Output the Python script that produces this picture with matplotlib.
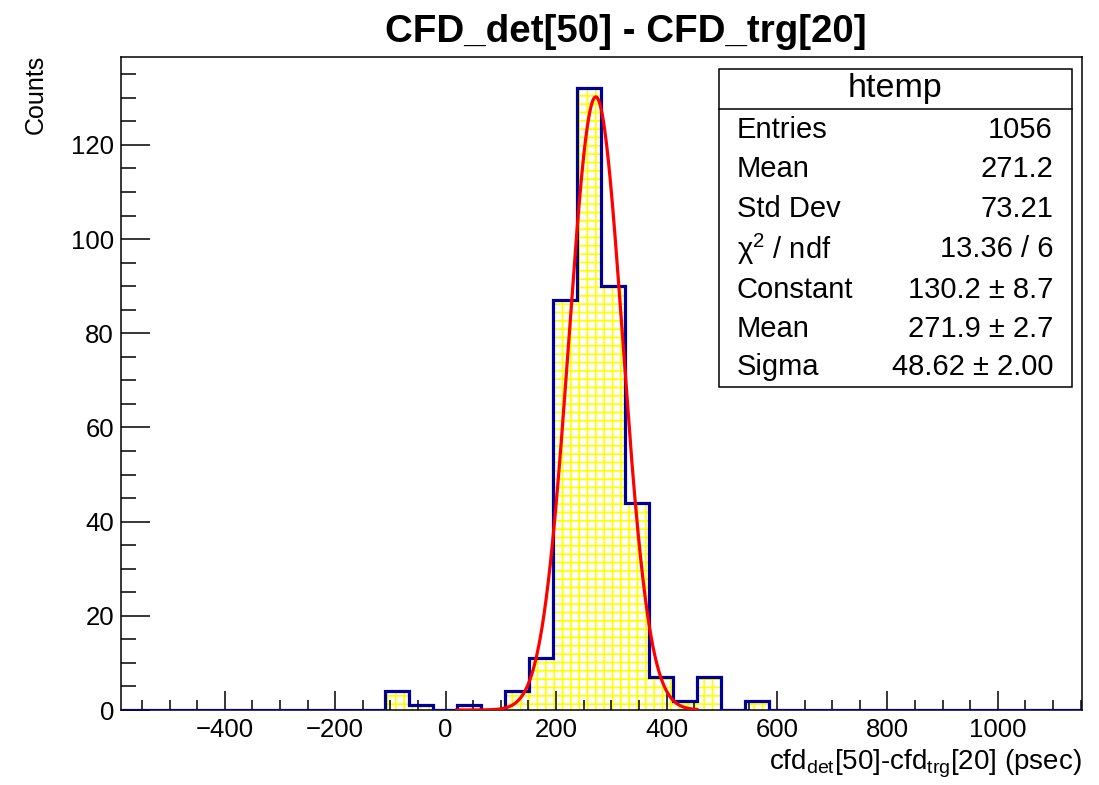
import numpy as np
import matplotlib
matplotlib.use("Agg")
import matplotlib.pyplot as plt
from matplotlib.ticker import MultipleLocator

plt.rcParams['font.family'] = ['Liberation Sans', 'DejaVu Sans']
plt.rcParams['mathtext.fontset'] = 'custom'
plt.rcParams['mathtext.rm'] = 'Liberation Sans'
plt.rcParams['mathtext.it'] = 'Liberation Sans'
plt.rcParams['mathtext.bf'] = 'Liberation Sans:bold'
plt.rcParams['hatch.linewidth'] = 1.2

# ---- data ----
x_min, x_max, n_bins = -588.0, 1152.0, 40
counts = [0, 0, 0, 0, 0, 0, 0, 0, 0, 0,
          0, 4, 1, 0, 1, 0, 4, 11, 87, 132,
          90, 44, 7, 2, 7, 0, 2, 0, 0, 0,
          0, 0, 0, 0, 0, 0, 0, 0, 0, 0]
fit_constant, fit_mean, fit_sigma = 130.2, 271.9, 48.62
fit_range = (20.0, 455.0)

title = "CFD_det[50] - CFD_trg[20]"
xlabel = r"cfd$_{\mathregular{det}}$[50]-cfd$_{\mathregular{trg}}$[20] (psec)"
ylabel = "Counts"
stats_title = "htemp"
stats_names = ["Entries", "Mean", "Std Dev", "χ$^{\\mathregular{2}}$ / ndf", "Constant", "Mean", "Sigma"]
stats_values = ["1056", "271.2", "73.21", "13.36 / 6", "130.2 ± 8.7", "271.9 ± 2.7", "48.62 ± 2.00"]

W, H = 1099, 785
fig = plt.figure(figsize=(W / 100, H / 100), dpi=100)
fig.patch.set_facecolor('white')

def fx(px):
    return px / W

def fy(py):
    return 1 - py / H

ax = fig.add_axes([fx(121), fy(710), fx(1081.7) - fx(121), fy(57.3) - fy(710)])

edges = np.linspace(x_min, x_max, n_bins + 1)
counts = np.array(counts, dtype=float)

# hatched yellow fill
ax.stairs(counts, edges, fill=True, facecolor='white', edgecolor='#ffff00',
          hatch='++', linewidth=0, zorder=1)
# navy outline
ax.stairs(counts, edges, fill=False, color='#000099', linewidth=2.3, zorder=3)

# gaussian fit
xf = np.linspace(fit_range[0], fit_range[1], 400)
yf = fit_constant * np.exp(-0.5 * ((xf - fit_mean) / fit_sigma) ** 2)
ax.plot(xf, yf, color='#ff0000', linewidth=2.3, zorder=4)

ax.set_xlim(x_min, x_max)
ax.set_ylim(0, 1.05 * counts.max())

ax.xaxis.set_major_locator(MultipleLocator(200))
ax.xaxis.set_minor_locator(MultipleLocator(50))
ax.yaxis.set_major_locator(MultipleLocator(20))
ax.yaxis.set_minor_locator(MultipleLocator(5))

ax.tick_params(axis='both', which='both', direction='in', top=False, right=False,
               width=1.1, colors='black', labelsize=18.5)
ax.tick_params(axis='x', which='major', length=14, pad=6)
ax.tick_params(axis='x', which='minor', length=7)
ax.tick_params(axis='y', which='major', length=21, pad=5)
ax.tick_params(axis='y', which='minor', length=11)

def fmt(v, pos=None):
    s = f"{int(round(v))}"
    return s.replace('-', '\u2212')
ax.xaxis.set_major_formatter(plt.FuncFormatter(fmt))
ax.yaxis.set_major_formatter(plt.FuncFormatter(fmt))

for sp in ax.spines.values():
    sp.set_linewidth(1.1)

# title
fig.text(fx(626), fy(42), title, ha='center', va='baseline', fontsize=27.7, fontweight='bold')

# axis labels
fig.text(fx(1082), fy(770), xlabel, ha='right', va='baseline', fontsize=20)
fig.text(fx(36), fy(55), ylabel, ha='center', va='top', rotation=90, fontsize=18)

# stats box
bx0, by0, bx1, by1 = 719, 69, 1072, 387
box = plt.Rectangle((fx(bx0), fy(by1)), fx(bx1) - fx(bx0), fy(by0) - fy(by1),
                    transform=fig.transFigure, facecolor='white', edgecolor='black',
                    linewidth=1.1, zorder=10)
fig.add_artist(box)
sep = plt.Line2D([fx(bx0), fx(bx1)], [fy(109), fy(109)], transform=fig.transFigure,
                 color='black', linewidth=1.1, zorder=11)
fig.add_artist(sep)
fig.text(fx((bx0 + bx1) / 2), fy(88), stats_title, ha='center', va='center',
         fontsize=24.5, zorder=12)
row_y = [130, 169, 209, 249, 290, 329, 367]
for name, val, yy in zip(stats_names, stats_values, row_y):
    fig.text(fx(737), fy(yy), name, ha='left', va='center', fontsize=21, zorder=12)
    fig.text(fx(1053), fy(yy), val, ha='right', va='center', fontsize=21, zorder=12)

fig.savefig("out.png", dpi=100, facecolor='white')
